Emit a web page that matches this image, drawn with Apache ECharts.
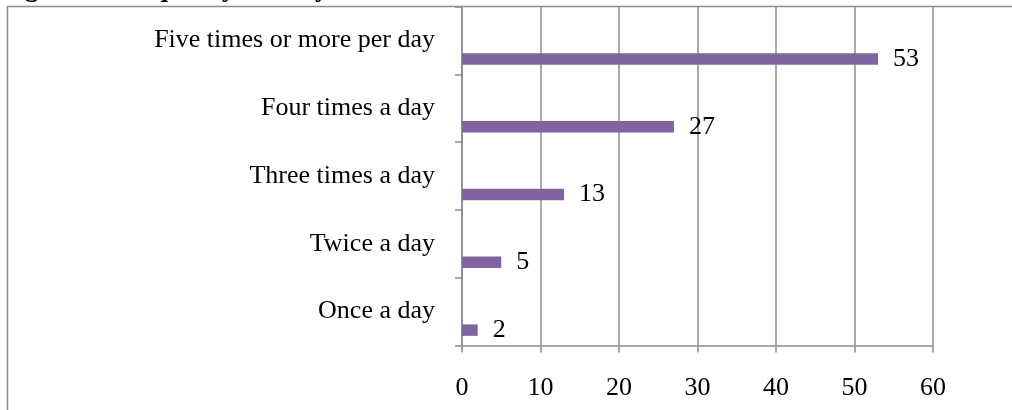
<!DOCTYPE html>
<html>
<head>
<meta charset="utf-8">
<script src="https://cdn.jsdelivr.net/npm/echarts@6/dist/echarts.min.js"></script>
<style>
  html, body { margin: 0; padding: 0; background: #fff; }
  #chart { width: 1012px; height: 410px; }
</style>
</head>
<body>
<div id="chart"></div>
<script>
// Frequency of daily social media access (percent of respondents)
const categories = ['Once a day', 'Twice a day', 'Three times a day', 'Four times a day', 'Five times or more per day'];
const percentValues = [2, 5, 13, 27, 53];
const xTicks = { min: 0, max: 60, step: 10 };
const figureTitle = 'Figure 4: Frequency of daily access of social media';

const serif = '"Liberation Serif", "Times New Roman", serif';
const gray = '#8c8c8c';
const purple = '#8064A2';

const chart = echarts.init(document.getElementById('chart'), null, { renderer: 'canvas' });

chart.setOption({
  backgroundColor: '#ffffff',
  animation: false,
  textStyle: { fontFamily: serif, color: '#000' },
  graphic: [
    {
      type: 'rect',
      shape: { x: 7.5, y: 6.5, width: 1100, height: 500 },
      style: { fill: 'none', stroke: gray, lineWidth: 1.5 },
      z: 0
    },
    {
      type: 'text',
      style: {
        text: figureTitle,
        x: 1,
        y: 3,
        font: 'bold 27px ' + serif,
        fill: '#000',
        verticalAlign: 'bottom'
      }
    }
  ],
  grid: { left: 462, right: 79, top: 6.5, bottom: 64.5, containLabel: false },
  xAxis: {
    type: 'value',
    min: xTicks.min,
    max: xTicks.max,
    interval: xTicks.step,
    axisLine: { show: true, lineStyle: { color: gray, width: 1.5 } },
    axisTick: { show: true, length: 7, lineStyle: { color: gray, width: 1.5 } },
    splitLine: { show: true, lineStyle: { color: gray, width: 1.5 } },
    axisLabel: { margin: 30, fontSize: 26, fontFamily: serif, color: '#000' }
  },
  yAxis: {
    type: 'category',
    data: categories,
    boundaryGap: true,
    axisLine: { show: true, lineStyle: { color: gray, width: 1.5 } },
    axisTick: { show: true, length: 7, lineStyle: { color: gray, width: 1.5 } },
    splitLine: { show: false },
    axisLabel: { margin: 27, fontSize: 26, fontFamily: serif, color: '#000' }
  },
  series: [
    {
      // empty companion series keeps its slot in each band, pushing the data bars below centre
      name: 'Series 2',
      type: 'bar',
      data: [],
      barWidth: 11.5,
      barGap: '222%'
    },
    {
      name: 'Percent',
      type: 'bar',
      data: percentValues,
      barWidth: 11.5,
      barGap: '222%',
      itemStyle: { color: purple },
      label: {
        show: true,
        position: 'right',
        distance: 15,
        fontSize: 26,
        fontFamily: serif,
        color: '#000'
      }
    }
  ]
});
</script>
</body>
</html>
